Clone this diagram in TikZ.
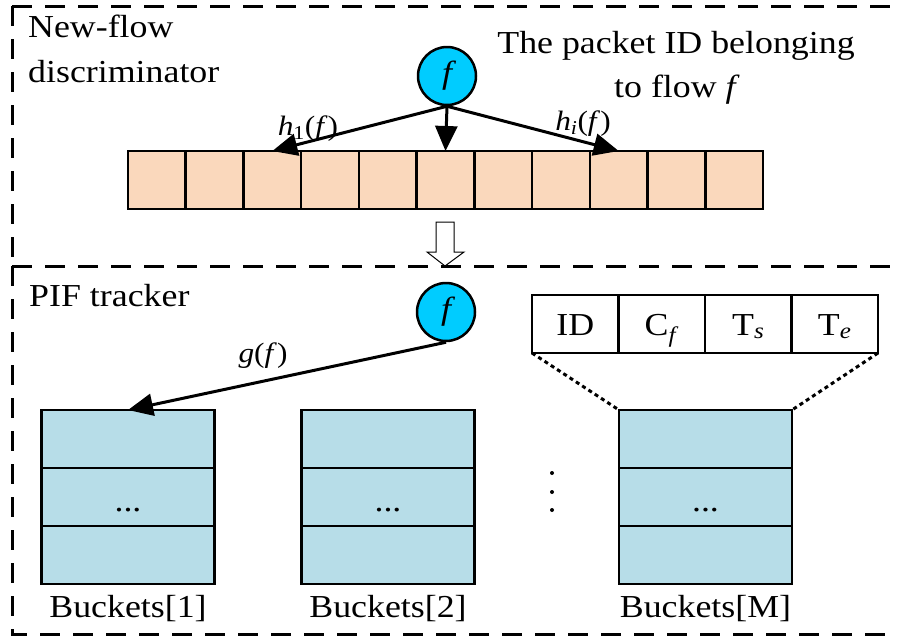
\documentclass[tikz,border=0pt]{standalone}
\usepackage{fontspec}
\setmainfont{Liberation Serif}[FakeStretch=1.12, UprightFont={Liberation Serif}, ItalicFont={Liberation Serif Italic}, BoldFont={Liberation Serif Bold}]
\usetikzlibrary{arrows.meta}
\definecolor{flowcyan}{RGB}{0,204,255}
\definecolor{peach}{RGB}{250,216,188}
\definecolor{bucketblue}{RGB}{183,221,232}
\begin{document}
\begin{tikzpicture}[x=1pt,y=-1pt,
  txt/.style={font=\fontsize{32}{38}\selectfont, inner sep=0pt},
  lbl/.style={font=\fontsize{28}{32}\selectfont, inner sep=0pt},
  flow/.style={circle, draw, line width=2.5pt, fill=flowcyan, minimum size=58pt, inner sep=0pt, font=\fontsize{32}{38}\selectfont\itshape},
  cell/.style={draw, line width=2.5pt, fill=peach, minimum width=57.73pt, minimum height=58pt, inner sep=0pt, outer sep=0pt},
  bcell/.style={draw, line width=2.5pt, fill=bucketblue, minimum width=173pt, minimum height=58pt, inner sep=0pt, outer sep=0pt},
  tcell/.style={draw, line width=2.5pt, fill=white, minimum width=86.5pt, minimum height=58pt, inner sep=0pt, outer sep=0pt, text height=22pt, text depth=0pt, font=\fontsize{32}{38}\selectfont},
  region/.style={line width=3pt, dash pattern=on 20pt off 13pt},
  conn/.style={line width=3pt, -{Triangle[length=25pt,width=22pt]}},
  zoomline/.style={line width=3pt, dash pattern=on 4pt off 3.5pt},
  vdot/.style={circle, fill, minimum size=4pt, inner sep=0pt},
]
\useasboundingbox (0,0) rectangle (897,638);
\clip (0,0) rectangle (897,638);

% dashed regions
\draw[region] (12,6) -- (910,6);
\draw[region] (12,6) -- (12,262);
\draw[region] (12,266) -- (910,266);
\draw[region] (12,266) -- (12,634) -- (910,634);

% ---- new-flow discriminator ----
\node[txt, anchor=base west] (t1a) at (28,37) {New-flow};
\node[txt, anchor=base west] (t1b) at (28,82) {discriminator};
\node[txt, anchor=base] (d1) at (676,53) {The packet ID belonging};
\node[txt, anchor=base] (d2) at (677,97) {to flow \textit{f}};

\foreach \i in {1,...,11}
  \node[cell] (c\i) at ({128+57.73*(\i-0.5)},180) {};

\node[flow] (f1) at (447,76) {f};
\draw[conn] (f1.south) -- (c3.north);
\draw[conn] (f1.south) -- (c6.north);
\draw[conn] (f1.south) -- (c9.north);
\node[lbl, anchor=base] (h1) at (308,135) {\textit{h}\textsubscript{1}(\textit{f})};
\node[lbl, anchor=base] (hi) at (583,130) {\textit{h}\textsubscript{\textit{i}}(\textit{f})};

% hollow arrow between regions
\draw[line width=1pt, fill=white] (436,222) -- (454,222) -- (454,252) -- (464,252) -- (445,266) -- (427,252) -- (436,252) -- cycle;

% ---- PIF tracker ----
\node[txt, anchor=base west] (t2) at (29,306) {PIF tracker};
\node[flow] (f2) at (446,312) {f};

\foreach \k/\x/\lab in {1/128/1, 2/388/2, M/705.5/M} {
  \node[bcell] (b\k r1) at (\x,439) {};
  \node[bcell] (b\k r2) at (\x,497) {};
  \node[bcell] (b\k r3) at (\x,555) {};
  \node[txt, anchor=base] (dots\k) at (\x,511) {...};
  \node[txt, anchor=base] (L\k) at (\x,617) {Buckets[\lab]};
}

\draw[conn] (f2.south) -- (b1r1.north);
\node[lbl, anchor=base] (gl) at (263,362) {\textit{g}(\textit{f})};

\node[vdot] (v1) at (552,473) {};
\node[vdot] (v2) at (552,492) {};
\node[vdot] (v3) at (552,510) {};

% record table
\node[tcell] (tc1) at (575.25,324) {ID};
\node[tcell] (tc2) at (661.75,324) {C\textsubscript{\textit{f}}};
\node[tcell] (tc3) at (748.25,324) {T\textsubscript{\textit{s}}};
\node[tcell] (tc4) at (834.75,324) {T\textsubscript{\textit{e}}};

\draw[zoomline] (tc1.south west) -- (bMr1.north west);
\draw[zoomline] (tc4.south east) -- (bMr1.north east);
\end{tikzpicture}
\end{document}
